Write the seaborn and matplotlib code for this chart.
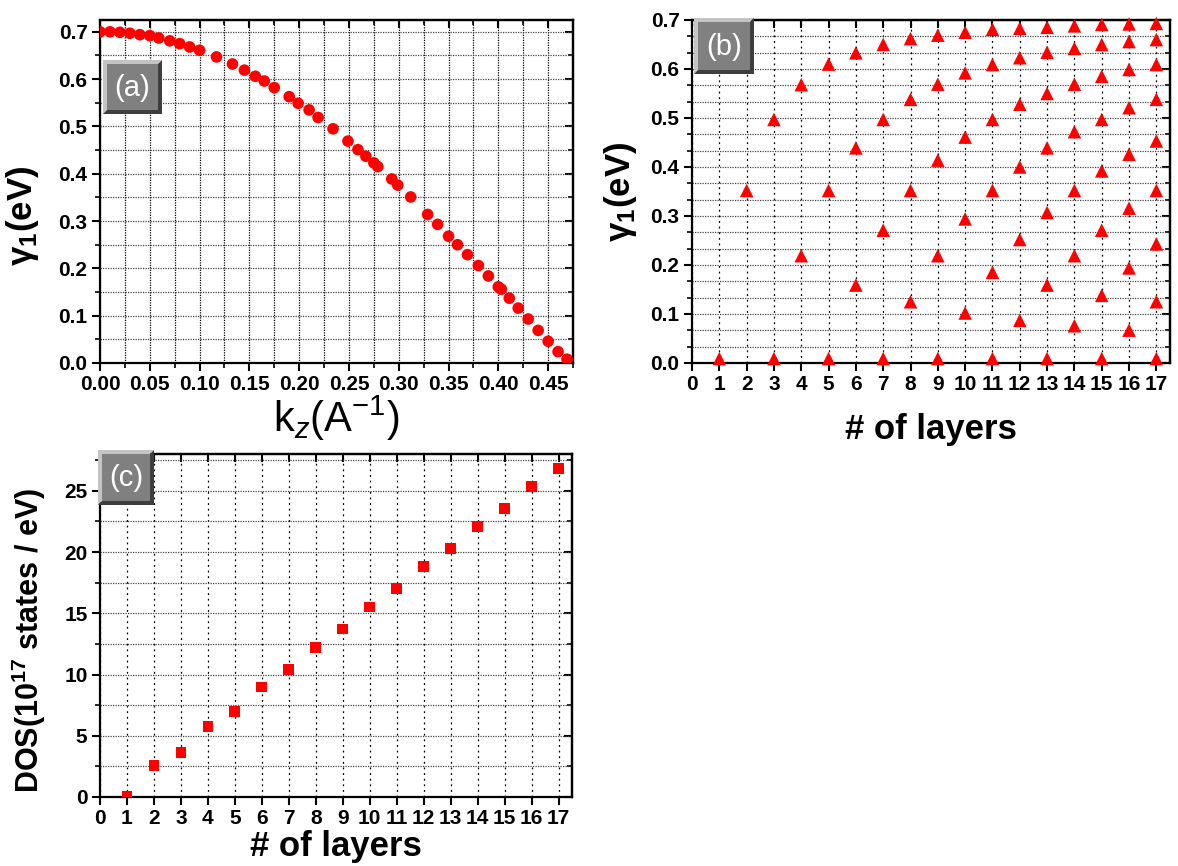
import numpy as np
import pandas as pd
import matplotlib
matplotlib.use("Agg")
import matplotlib.pyplot as plt
import seaborn as sns
from matplotlib.ticker import MultipleLocator, FormatStrFormatter
from matplotlib.patches import Polygon, Rectangle

# panel (a): gamma_1 versus k_z
kz = [0.000, 0.010, 0.020, 0.030, 0.040, 0.050, 0.059, 0.070, 0.080, 0.090,
      0.100, 0.117, 0.133, 0.145, 0.156, 0.165, 0.175, 0.190, 0.199, 0.210,
      0.219, 0.234, 0.249, 0.259, 0.267, 0.275, 0.279, 0.293, 0.299, 0.312,
      0.329, 0.339, 0.350, 0.359, 0.369, 0.380, 0.390, 0.400, 0.403, 0.411,
      0.420, 0.430, 0.440, 0.450, 0.460, 0.469]
gamma_kz = [0.700, 0.700, 0.699, 0.697, 0.694, 0.692, 0.687, 0.681, 0.675, 0.668,
            0.661, 0.647, 0.632, 0.619, 0.606, 0.596, 0.582, 0.563, 0.549, 0.535,
            0.519, 0.495, 0.469, 0.451, 0.437, 0.423, 0.415, 0.389, 0.376, 0.351,
            0.314, 0.293, 0.268, 0.250, 0.229, 0.206, 0.184, 0.161, 0.156, 0.137,
            0.116, 0.093, 0.069, 0.046, 0.024, 0.008]

# panel (b): gamma_1 levels for each number of layers
layers_b = [1,
            2,
            3, 3,
            4, 4,
            5, 5, 5,
            6, 6, 6,
            7, 7, 7, 7,
            8, 8, 8, 8,
            9, 9, 9, 9, 9,
            10, 10, 10, 10, 10,
            11, 11, 11, 11, 11, 11,
            12, 12, 12, 12, 12, 12,
            13, 13, 13, 13, 13, 13, 13,
            14, 14, 14, 14, 14, 14, 14,
            15, 15, 15, 15, 15, 15, 15, 15,
            16, 16, 16, 16, 16, 16, 16, 16,
            17, 17, 17, 17, 17, 17, 17, 17, 17]
gamma_b = [0.009,
           0.352,
           0.497, 0.009,
           0.568, 0.219,
           0.610, 0.352, 0.009,
           0.633, 0.439, 0.159,
           0.650, 0.497, 0.271, 0.009,
           0.662, 0.538, 0.352, 0.125,
           0.669, 0.569, 0.414, 0.219, 0.009,
           0.675, 0.592, 0.461, 0.294, 0.102,
           0.681, 0.609, 0.497, 0.352, 0.185, 0.009,
           0.683, 0.623, 0.528, 0.400, 0.252, 0.087,
           0.685, 0.634, 0.550, 0.439, 0.307, 0.159, 0.009,
           0.688, 0.642, 0.569, 0.472, 0.352, 0.219, 0.076,
           0.691, 0.650, 0.585, 0.497, 0.392, 0.271, 0.138, 0.009,
           0.692, 0.656, 0.599, 0.521, 0.426, 0.316, 0.194, 0.067,
           0.693, 0.660, 0.609, 0.538, 0.453, 0.352, 0.243, 0.125, 0.009]

# panel (c): density of states versus number of layers
layers_c = list(range(1, 18))
dos = [0.05, 2.56, 3.63, 5.75, 7.01, 8.97, 10.39, 12.21, 13.71, 15.51,
       17.04, 18.84, 20.31, 22.06, 23.53, 25.33, 26.80]

W, H = 1178, 866

sns.set_style("white")
plt.rcParams["font.family"] = ["Liberation Sans", "DejaVu Sans"]
plt.rcParams["mathtext.fontset"] = "custom"
plt.rcParams["mathtext.rm"] = "Liberation Sans"
plt.rcParams["mathtext.bf"] = "Liberation Sans:bold"
plt.rcParams["mathtext.it"] = "Liberation Sans:italic"
plt.rcParams["text.color"] = "black"
plt.rcParams["axes.labelcolor"] = "black"
plt.rcParams["xtick.color"] = "black"
plt.rcParams["ytick.color"] = "black"

fig = plt.figure(figsize=(W / 100, H / 100), dpi=100)


def px_axes(left, top, right, bottom):
    return fig.add_axes([left / W, 1 - bottom / H, (right - left) / W, (bottom - top) / H])


def style_axes(ax, xmaj, xmin, ymaj, ymin, vgrid, hgrid, xfmt=None, yfmt=None):
    for s in ax.spines.values():
        s.set_linewidth(1.6)
        s.set_color("black")
    ax.xaxis.set_major_locator(MultipleLocator(xmaj))
    ax.yaxis.set_major_locator(MultipleLocator(ymaj))
    if xmin:
        ax.xaxis.set_minor_locator(MultipleLocator(xmin))
    if ymin:
        ax.yaxis.set_minor_locator(MultipleLocator(ymin))
    if xfmt:
        ax.xaxis.set_major_formatter(FormatStrFormatter(xfmt))
    if yfmt:
        ax.yaxis.set_major_formatter(FormatStrFormatter(yfmt))
    ax.tick_params(which="both", bottom=True, left=True, top=False, right=False)
    ax.tick_params(which="major", direction="out", length=6, width=1.5,
                   labelsize=15, pad=3)
    ax.tick_params(which="minor", direction="out", length=3.5, width=1.2)
    for lab in ax.get_xticklabels() + ax.get_yticklabels():
        lab.set_fontweight("bold")
    ax.grid(which="major", axis="x", color="black", lw=0.9, linestyle=vgrid)
    ax.grid(which="minor", axis="x", color="black", lw=0.9, linestyle=vgrid)
    ax.grid(which="major", axis="y", color="#444444", lw=0.9, linestyle=hgrid)
    ax.grid(which="minor", axis="y", color="#444444", lw=0.9, linestyle=hgrid)
    ax.set_axisbelow(True)
    # inward ticks on top and right
    top = ax.secondary_xaxis("top")
    top.xaxis.set_major_locator(MultipleLocator(xmaj))
    if xmin:
        top.xaxis.set_minor_locator(MultipleLocator(xmin))
    top.tick_params(which="both", top=True, labeltop=False)
    top.tick_params(which="major", direction="in", length=6, width=1.5)
    top.tick_params(which="minor", direction="in", length=3.5, width=1.2)
    right = ax.secondary_yaxis("right")
    right.yaxis.set_major_locator(MultipleLocator(ymaj))
    if ymin:
        right.yaxis.set_minor_locator(MultipleLocator(ymin))
    right.tick_params(which="both", right=True, labelright=False)
    right.tick_params(which="major", direction="in", length=6, width=1.5)
    right.tick_params(which="minor", direction="in", length=3.5, width=1.2)
    for sec in (top, right):
        for s in sec.spines.values():
            s.set_linewidth(1.6)
            s.set_color("black")


def label_box(x0, y0, w, h, text):
    b = 4
    def p(x, y):
        return (x / W, 1 - y / H)
    light = [p(x0, y0), p(x0 + w, y0), p(x0 + w - b, y0 + b), p(x0 + b, y0 + b),
             p(x0 + b, y0 + h - b), p(x0, y0 + h)]
    dark = [p(x0 + w, y0), p(x0 + w, y0 + h), p(x0, y0 + h), p(x0 + b, y0 + h - b),
            p(x0 + w - b, y0 + h - b), p(x0 + w - b, y0 + b)]
    fig.add_artist(Polygon(light, closed=True, transform=fig.transFigure,
                           facecolor="#c4c4c4", edgecolor="none", zorder=20))
    fig.add_artist(Polygon(dark, closed=True, transform=fig.transFigure,
                           facecolor="#3e3e3e", edgecolor="none", zorder=20))
    fig.add_artist(Rectangle(((x0 + b) / W, 1 - (y0 + h - b) / H), (w - 2 * b) / W,
                             (h - 2 * b) / H, transform=fig.transFigure,
                             facecolor="#808080", edgecolor="none", zorder=21))
    fig.text((x0 + w / 2) / W, 1 - (y0 + h / 2 + 1) / H, text, color="white",
             fontsize=21, ha="center", va="center", zorder=22)


dense = (0, (1, 1))
sparse = (0, (1.5, 3))

# (a)
ax_a = px_axes(100, 20, 573, 363)
sns.scatterplot(x=kz, y=gamma_kz, ax=ax_a, color="#ff0000", s=70,
                edgecolor="none", marker="o", zorder=3)
ax_a.set_xlim(0, 0.475)
ax_a.set_ylim(0, 0.725)
style_axes(ax_a, 0.05, 0.025, 0.1, 0.05, dense, dense, "%.2f", "%.1f")
ax_a.set_ylabel("γ$_\\mathbf{1}$(eV)", fontsize=25, fontweight="bold")
ax_a.yaxis.set_label_coords(-0.125, 0.43)
ax_a.set_xlabel("k$_z$(A$^{-1}$)", fontsize=30)
ax_a.xaxis.set_label_coords(0.5, -0.09)

# (b)
ax_b = px_axes(692, 20, 1170, 363)
sns.scatterplot(x=layers_b, y=gamma_b, ax=ax_b, color="#ff0000", s=95,
                edgecolor="none", marker="^", zorder=3, clip_on=False)
ax_b.set_xlim(0, 17.5)
ax_b.set_ylim(0, 0.7)
style_axes(ax_b, 1, None, 0.1, 0.1 / 3, sparse, dense, None, "%.1f")
ax_b.set_ylabel("γ$_\\mathbf{1}$(eV)", fontsize=25, fontweight="bold")
ax_b.yaxis.set_label_coords(-0.11, 0.5)
ax_b.set_xlabel("# of layers", fontsize=25, fontweight="bold")
ax_b.xaxis.set_label_coords(0.5, -0.145)

# (c)
ax_c = px_axes(100, 454, 572, 797)
sns.scatterplot(x=layers_c, y=dos, ax=ax_c, color="#ff0000", s=60,
                edgecolor="none", marker="s", zorder=3)
ax_c.set_xlim(0, 17.5)
ax_c.set_ylim(0, 28)
style_axes(ax_c, 1, None, 5, 2.5, sparse, dense)
ax_c.set_ylabel("DOS(10$^{\\mathbf{17}}$ states / eV)", fontsize=22, fontweight="bold")
ax_c.yaxis.set_label_coords(-0.11, 0.455)
ax_c.set_xlabel("# of layers", fontsize=25, fontweight="bold")
ax_c.xaxis.set_label_coords(0.5, -0.095)

label_box(103, 60, 59, 54, "(a)")
label_box(694, 18, 60, 56, "(b)")
label_box(98, 450, 56, 55, "(c)")

fig.savefig("out.png", dpi=100)
